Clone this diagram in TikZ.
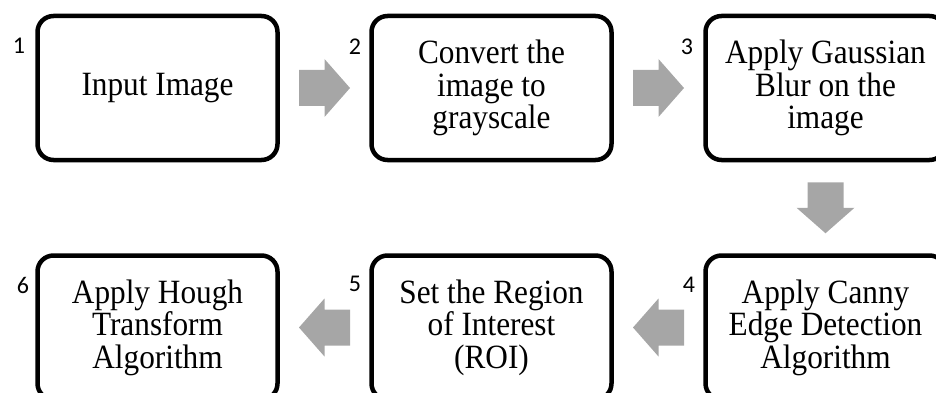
\documentclass[tikz,border=0pt]{standalone}
\usepackage{fontspec}
\setmainfont{Liberation Serif}
\newfontfamily\boxfont[FakeStretch=0.92]{Liberation Serif}
\newfontfamily\numfont{Carlito}
\usetikzlibrary{calc}
\definecolor{arrowgray}{RGB}{166,166,166}
\tikzset{
  stepbox/.style={draw=black, line width=4.5pt, rounded corners=16pt,
    minimum width=240pt, minimum height=144pt, inner sep=0pt, align=center,
    font=\boxfont\fontsize{34}{32.5}\selectfont},
  numlabel/.style={inner sep=0pt, font=\numfont\fontsize{24}{24}\selectfont},
  blockarrow/.pic={\fill[arrowgray] (-25.5,-18) -- (0,-18) -- (0,-29) -- (25.5,0) -- (0,29) -- (0,18) -- (-25.5,18) -- cycle;}
}
\begin{document}
\begin{tikzpicture}[x=1pt,y=1pt]
\useasboundingbox (0,0) rectangle (936,-393);
\clip (0,0) rectangle (936,-393);
\node[stepbox] (b1) at (157.5,-88) {Input Image};
\node[stepbox] (b2) at (491.5,-88) {Convert the\\image to\\grayscale};
\node[stepbox] (b3) at (825.5,-88) {Apply Gaussian\\Blur on the\\image};
\node[stepbox] (b4) at (825.5,-327.5) {Apply Canny\\Edge Detection\\Algorithm};
\node[stepbox] (b5) at (491.5,-327.5) {Set the Region\\of Interest\\(ROI)};
\node[stepbox] (b6) at (157.5,-327.5) {Apply Hough\\Transform\\Algorithm};
\node[numlabel] (n1) at (19,-46) {1};
\node[numlabel] (n2) at (355,-46.5) {2};
\node[numlabel] (n3) at (687,-46.5) {3};
\node[numlabel] (n4) at (689,-284.5) {4};
\node[numlabel] (n5) at (355,-284) {5};
\node[numlabel] (n6) at (23,-285.5) {6};
\path ($(b1.east)!0.5!(b2.west)$) pic {blockarrow};
\path ($(b2.east)!0.5!(b3.west)$) pic {blockarrow};
\path ($(b3.south)!0.5!(b4.north)$) pic[rotate=-90] {blockarrow};
\path ($(b4.west)!0.5!(b5.east)$) pic[rotate=180] {blockarrow};
\path ($(b5.west)!0.5!(b6.east)$) pic[rotate=180] {blockarrow};
\end{tikzpicture}
\end{document}
